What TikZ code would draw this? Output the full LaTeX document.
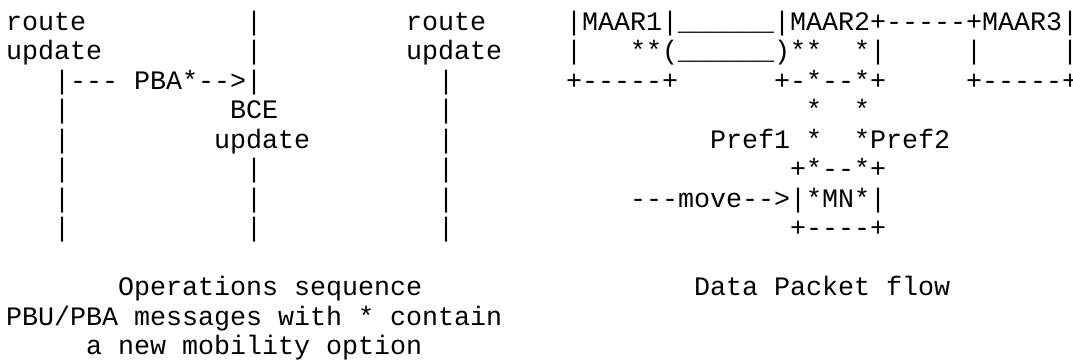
\documentclass[tikz,border=0pt]{standalone}
\usepackage{fontspec}
\setmonofont{Liberation Mono}
\tikzset{
  asc/.style={font=\ttfamily\fontsize{26.67}{29.5}\selectfont, anchor=base west,
              inner sep=0pt, outer sep=0pt, text=black}
}
% place text #4 (node name #1) at column #2, row #3 of the character grid
\newcommand\asc[4]{\node[asc] (#1) at ({6+16*#2},{-(30+29.5*#3)}) {#4};}
\begin{document}
\begin{tikzpicture}[x=1pt,y=1pt]
\fill[white] (0,0) rectangle (1073,-360);
\useasboundingbox (0,0) rectangle (1073,-360);
% row 0
\asc{ra}{0}{0}{route}
\asc{ba0}{15}{0}{|}
\asc{rb}{25}{0}{route}
\asc{maar}{35}{0}{|MAAR1|\_\_\_\_\_\_|MAAR2+-----+MAAR3|}
% row 1
\asc{ua}{0}{1}{update}
\asc{ba1}{15}{1}{|}
\asc{ub}{25}{1}{update}
\asc{m1a}{35}{1}{|}
\asc{m1b}{39}{1}{**(\_\_\_\_\_\_)**}
\asc{m1c}{53}{1}{*|}
\asc{m1d}{60}{1}{|}
\asc{m1e}{66}{1}{|}
% row 2
\asc{pbaa}{3}{2}{|---}
\asc{pbab}{8}{2}{PBA*-->|}
\asc{bc2}{27}{2}{|}
\asc{m2a}{35}{2}{+-----+}
\asc{m2b}{48}{2}{+-*--*+}
\asc{m2c}{60}{2}{+-----+}
% row 3
\asc{bl3}{3}{3}{|}
\asc{bce}{14}{3}{BCE}
\asc{bc3}{27}{3}{|}
\asc{s3a}{50}{3}{*}
\asc{s3b}{53}{3}{*}
% row 4
\asc{bl4}{3}{4}{|}
\asc{bceu}{13}{4}{update}
\asc{bc4}{27}{4}{|}
\asc{pf1}{44}{4}{Pref1}
\asc{s4a}{50}{4}{*}
\asc{pf2}{53}{4}{*Pref2}
% rows 5-7
\asc{bl5}{3}{5}{|}
\asc{bb5}{15}{5}{|}
\asc{bc5}{27}{5}{|}
\asc{mn5}{49}{5}{+*--*+}
\asc{bl6}{3}{6}{|}
\asc{bb6}{15}{6}{|}
\asc{bc6}{27}{6}{|}
\asc{mv}{39}{6}{---move-->|*MN*|}
\asc{bl7}{3}{7}{|}
\asc{bb7}{15}{7}{|}
\asc{bc7}{27}{7}{|}
\asc{mn7}{49}{7}{+----+}
% captions
\asc{opsa}{7}{9}{Operations}
\asc{opsb}{18}{9}{sequence}
\asc{dpfa}{43}{9}{Data}
\asc{dpfb}{48}{9}{Packet}
\asc{dpfc}{55}{9}{flow}
\asc{pbua}{0}{10}{PBU/PBA}
\asc{pbub}{8}{10}{messages}
\asc{pbuc}{17}{10}{with}
\asc{pbud}{22}{10}{*}
\asc{pbue}{24}{10}{contain}
\asc{moba}{5}{11}{a}
\asc{mobb}{7}{11}{new}
\asc{mobc}{11}{11}{mobility}
\asc{mobd}{20}{11}{option}
\end{tikzpicture}
\end{document}
